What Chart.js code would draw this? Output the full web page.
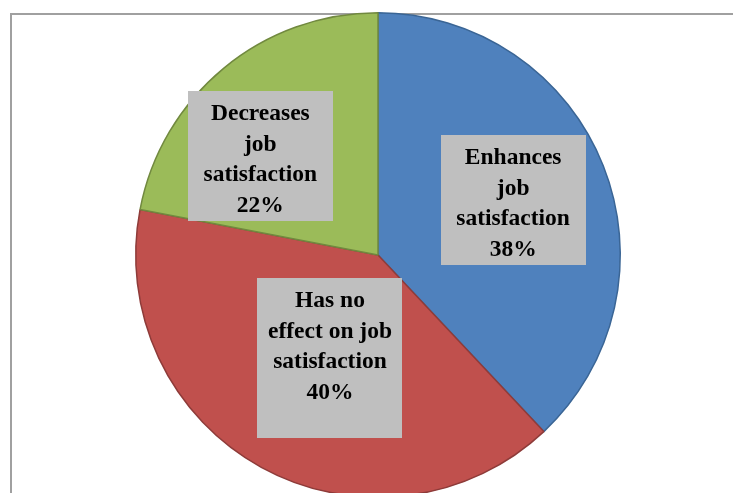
<!DOCTYPE html>
<html>
<head>
<meta charset="utf-8">
<script src="https://cdn.jsdelivr.net/npm/chart.js@4/dist/chart.umd.min.js"></script>
<style>
    html, body { margin: 0; padding: 0; background: #fff; overflow: hidden; }
    #wrap { position: relative; width: 733px; height: 493px; overflow: hidden; }
    #pieChart { position: absolute; left: 0; top: 0; }
</style>
</head>
<body>
<div id="wrap">
    <canvas id="pieChart" width="733" height="510"></canvas>
</div>
<script>
// Survey answers: effect on job satisfaction
const categories = ['Enhances job satisfaction', 'Has no effect on job satisfaction', 'Decreases job satisfaction'];
const shares = [38, 40, 22];

// Text shown inside each grey label box, one entry per line
const labelLines = [
    ['Enhances', 'job', 'satisfaction', '38%'],
    ['Has no', 'effect on job', 'satisfaction', '40%'],
    ['Decreases', 'job', 'satisfaction', '22%']
];

const fills = ['#4F81BD', '#C0504D', '#9BBB59'];
const edges = ['#3A6595', '#8E3B39', '#71893F'];

// Label box layout: size and nudge from the slice's mid-radius anchor
const boxSizes = [[145, 130], [145, 160], [145, 130]];
const boxNudge = [[0, -1], [22, -39], [-25, 13]];

// Outer frame, drawn under the pie
const framePlugin = {
    id: 'frame',
    beforeDraw(chart) {
        const ctx = chart.ctx;
        ctx.save();
        ctx.strokeStyle = '#a0a0a0';
        ctx.lineWidth = 2;
        ctx.beginPath();
        ctx.moveTo(11, chart.height);
        ctx.lineTo(11, 14);
        ctx.lineTo(chart.width, 14);
        ctx.stroke();
        ctx.restore();
    }
};

// Grey boxes with the category text and percentage
const boxLabelPlugin = {
    id: 'boxLabels',
    afterDatasetsDraw(chart) {
        const ctx = chart.ctx;
        const meta = chart.getDatasetMeta(0);
        ctx.save();
        meta.data.forEach((arc, i) => {
            const mid = (arc.startAngle + arc.endAngle) / 2;
            const r = arc.outerRadius * 0.6;
            const cx = arc.x + Math.cos(mid) * r + boxNudge[i][0];
            const cy = arc.y + Math.sin(mid) * r + boxNudge[i][1];
            const [w, h] = boxSizes[i];
            const top = cy - 130 / 2;
            ctx.fillStyle = '#BFBFBF';
            ctx.fillRect(Math.round(cx - w / 2), Math.round(top), w, h);

            ctx.fillStyle = '#000';
            ctx.font = 'bold 23.5px "Liberation Serif", "Times New Roman", serif';
            ctx.textAlign = 'center';
            ctx.textBaseline = 'alphabetic';
            labelLines[i].forEach((line, j) => {
                ctx.fillText(line, cx, top + 29 + j * 30.5);
            });
        });
        ctx.restore();
    }
};

new Chart(document.getElementById('pieChart'), {
    type: 'pie',
    data: {
        labels: categories,
        datasets: [{
            data: shares,
            backgroundColor: fills,
            borderColor: edges,
            borderWidth: 1.5
        }]
    },
    options: {
        responsive: false,
        animation: false,
        layout: {
            padding: { top: 12, bottom: 12, left: 135, right: 112 }
        },
        plugins: {
            legend: { display: false },
            tooltip: { enabled: false }
        }
    },
    plugins: [framePlugin, boxLabelPlugin]
});
</script>
</body>
</html>
